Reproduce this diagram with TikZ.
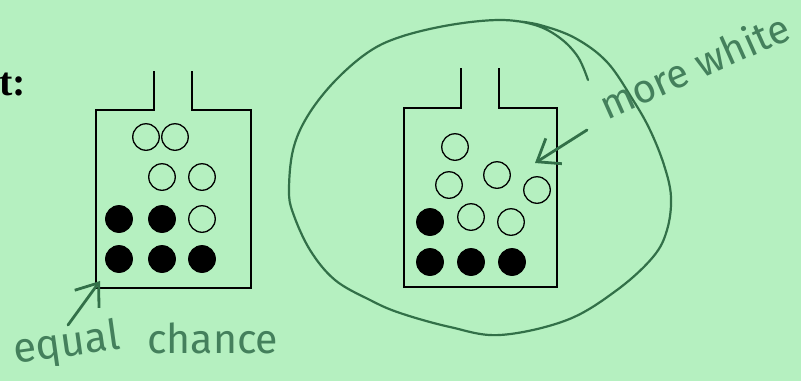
\documentclass[tikz,border=0pt]{standalone}
\usepackage{fontspec}
\usetikzlibrary{arrows.meta}
\setmainfont{Liberation Serif}
\newfontfamily\handfont{Fira Sans}
\definecolor{mint}{RGB}{181,240,192}
\definecolor{pen}{RGB}{50,112,72}
\definecolor{pentext}{RGB}{68,128,92}

\begin{document}
\begin{tikzpicture}[x=1pt, y=-1pt,
        jar/.style={draw=black, line width=1.6pt},
        ball/.style={circle, draw=black, line width=1.3pt, minimum size=26.5pt, inner sep=0pt},
        blackball/.style={ball, fill=black},
        hand/.style={draw=pen, line width=2.2pt, line cap=round, line join=round},
        handarrow/.style={hand, line width=2.8pt, -{Straight Barb[length=20pt, width=30pt, line width=2.8pt]}},
        handtext/.style={text=pentext, font=\handfont, inner sep=0pt}
    ]
        \fill[mint] (0,0) rectangle (801,381);
        \useasboundingbox (0,0) rectangle (801,381);

        \node[anchor=base west, font=\fontsize{40}{44}\selectfont\bfseries, inner sep=0pt] (label) at (-1,95) {t:};

        % left jar
        \draw[jar] (154,71) -- (154,110) -- (96,110) -- (96,288) -- (251,288) -- (251,110) -- (192,110) -- (192,71);
        \foreach \x/\y [count=\i] in {146/137, 175/137, 162/177, 202/177, 202/219}
            \node[ball] (lw\i) at (\x,\y) {};
        \foreach \x/\y [count=\i] in {119/219, 162/219, 119/259, 162/259, 202/259}
            \node[blackball] (lb\i) at (\x,\y) {};

        % right jar
        \draw[jar] (461,68) -- (461,108) -- (404,108) -- (404,287) -- (557,287) -- (557,108) -- (499,108) -- (499,68);
        \foreach \x/\y [count=\i] in {455/147, 449/185, 497/175, 537/190, 471/217, 511/222}
            \node[ball] (rw\i) at (\x,\y) {};
        \foreach \x/\y [count=\i] in {430/222, 430/262, 471/262, 512/262}
            \node[blackball] (rb\i) at (\x,\y) {};

        % ring round the right jar
        \draw[hand] plot[smooth, tension=0.6] coordinates {(588,80) (578,57) (560,38) (535,25) (500,20) (450,25) (400,37) (367,53) (333,83) (307,117) (293,150) (289,190) (293,213) (310,250) (335,280) (370,300) (400,313) (450,327) (500,335) (567,320) (617,290) (653,257) (667,230) (671,197) (664,165) (650,130) (633,100) (607,62) (575,38) (540,25) (515,21)};

        % notes
        \node[handtext, anchor=base west, rotate=8, font=\handfont\fontsize{42}{46}\selectfont] (equal) at (15,364) {equal};
        \node[handtext, anchor=base west, font=\handfont\fontsize{41}{45}\selectfont] (chance) at (147,353) {chance};
        \node[handtext, anchor=base west, rotate=24, font=\handfont\fontsize{40}{44}\selectfont] (morewhite) at (607,121) {more white};

        \coordinate (eqtail) at (68,325);
        \coordinate (eqtip) at (100,281);
        \coordinate (mwtail) at (587,130);
        \coordinate (mwtip) at (535,163);
        \draw[handarrow] (eqtail) -- (eqtip);
        \draw[handarrow] (mwtail) -- (mwtip);
    \end{tikzpicture}
\end{document}
